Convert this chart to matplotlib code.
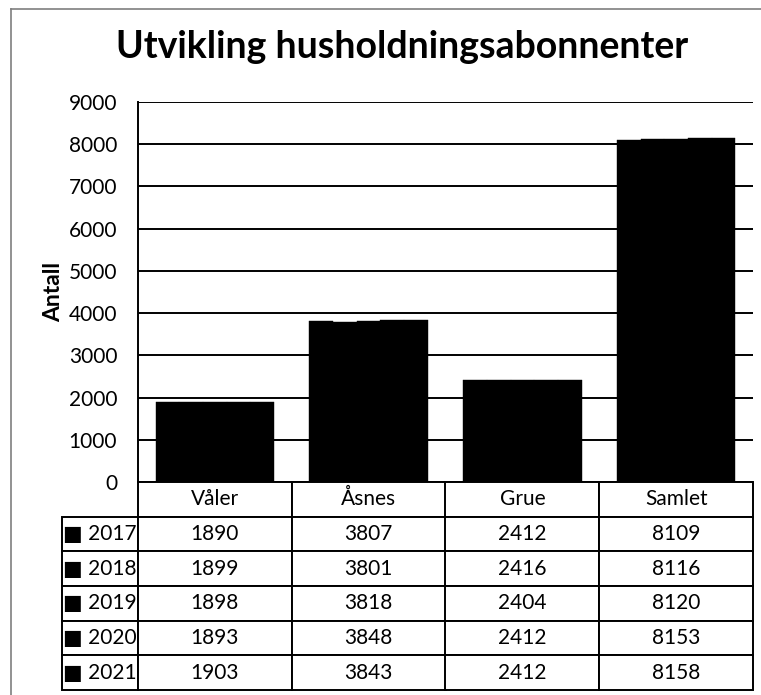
import numpy as np
import matplotlib
matplotlib.use("Agg")
import matplotlib.pyplot as plt
from matplotlib.lines import Line2D

plt.rcParams['font.family'] = ['Lato', 'DejaVu Sans']

# Data
categories = ['Våler', 'Åsnes', 'Grue', 'Samlet']
years = ['2017', '2018', '2019', '2020', '2021']
values = {
    '2017': [1890, 3807, 2412, 8109],
    '2018': [1899, 3801, 2416, 8116],
    '2019': [1898, 3818, 2404, 8120],
    '2020': [1893, 3848, 2412, 8153],
    '2021': [1903, 3843, 2412, 8158],
}
yticks = [0, 1000, 2000, 3000, 4000, 5000, 6000, 7000, 8000, 9000]

W, H = 761, 695
fig = plt.figure(figsize=(W / 100, H / 100), dpi=100)

# frame around the whole chart
fig.add_artist(Line2D([11 / W, 11 / W], [0, 1 - 9 / H], color='#7f7f7f', lw=1.2))
fig.add_artist(Line2D([11 / W, 1], [1 - 9 / H, 1 - 9 / H], color='#7f7f7f', lw=1.2))

left, right, top, bottom = 138, 753, 102, 482
ax = fig.add_axes([left / W, 1 - bottom / H, (right - left) / W, (bottom - top) / H])

x = np.arange(len(categories))
group = 0.77
bw = group / len(years)
for i, yr in enumerate(years):
    ax.bar(x - group / 2 + bw * (i + 0.5), values[yr], width=bw, color='black',
           edgecolor='black', linewidth=0.3, zorder=3)

ax.set_xlim(-0.5, len(categories) - 0.5)
ax.set_ylim(0, 9000)
ax.set_yticks(yticks)
ax.set_xticks([])
ax.tick_params(axis='y', length=0, pad=15, labelsize=15)
ax.yaxis.grid(True, color='black', lw=1.4, zorder=0)
for s in ['top', 'right', 'bottom']:
    ax.spines[s].set_visible(False)
ax.spines['left'].set_linewidth(1.4)
ax.set_ylabel('Antall', fontsize=16.5, fontweight='bold', labelpad=3)

# data table (first column holds the legend keys)
label_w = 76 / (right - left)
tbl_h = (690 - bottom) / (bottom - top)
cell_text = [['\u25a0 ' + yr] + [str(v) for v in values[yr]] for yr in years]
tbl = ax.table(cellText=cell_text,
               colLabels=[''] + categories,
               cellLoc='center',
               colWidths=[label_w] + [0.25] * 4,
               bbox=[-label_w, -tbl_h, 1 + label_w, tbl_h])
tbl.auto_set_font_size(False)
tbl.set_fontsize(15)
for (r, c), cell in tbl.get_celld().items():
    cell.set_linewidth(1.4)
    cell.set_edgecolor('black')
    if c == 0:
        cell._loc = 'left'
        cell.PAD = 0.1
        if r == 0:
            cell.visible_edges = ''

fig.suptitle('Utvikling husholdningsabonnenter', x=402 / W, y=1 - 30 / H,
             va='top', fontsize=27, fontweight='bold')

fig.savefig('out.png', dpi=100)
